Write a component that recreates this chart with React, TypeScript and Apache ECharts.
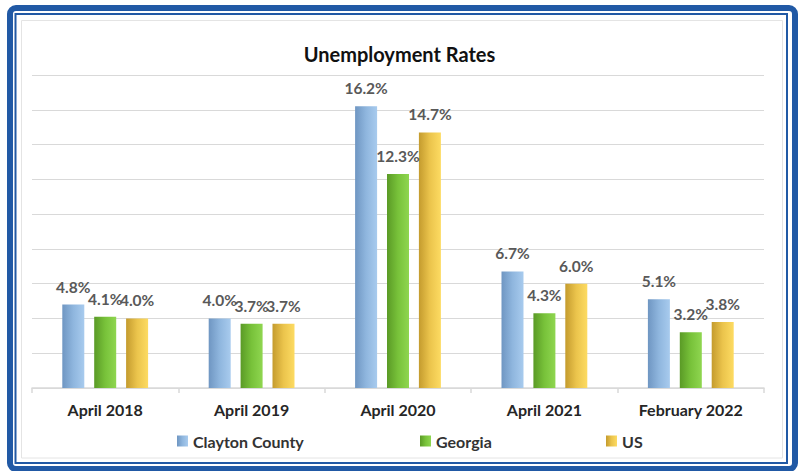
import React, { useEffect, useRef } from "react";
import * as echarts from "echarts";

const categories = ["April 2018", "April 2019", "April 2020", "April 2021", "February 2022"];
const claytonCounty = [4.8, 4.0, 16.2, 6.7, 5.1];
const georgia = [4.1, 3.7, 12.3, 4.3, 3.2];
const us = [4.0, 3.7, 14.7, 6.0, 3.8];
const seriesNames = ["Clayton County", "Georgia", "US"];

const FONT = "Lato, 'Noto Sans', sans-serif";

function grad(c1: string, c2: string, c3: string) {
  return new echarts.graphic.LinearGradient(0, 0, 1, 0, [
    { offset: 0, color: c1 },
    { offset: 0.5, color: c2 },
    { offset: 1, color: c3 },
  ]);
}

export default function App() {
  const ref = useRef<HTMLDivElement>(null);
  useEffect(() => {
    if (!ref.current) return;
    const chart = echarts.init(ref.current, undefined, { renderer: "svg" });
    const colors = [
      grad("#6f96c2", "#8fb6de", "#a8cbee"),
      grad("#5a9a26", "#78c23a", "#8fd650"),
      grad("#c49b2e", "#ebc44c", "#fddb62"),
    ];
    const datas = [claytonCounty, georgia, us];
    const label = {
      show: true,
      position: "top",
      distance: 10,
      formatter: (p: any) => p.value.toFixed(1) + "%",
      fontFamily: FONT,
      fontWeight: "bold",
      fontSize: 15.5,
      color: "#595959",
    };
    const legendLefts = [172, 415, 601];
    chart.setOption({
      animation: false,
      backgroundColor: "#ffffff",
      title: {
        text: "Unemployment Rates",
        left: "center",
        top: 39,
        textStyle: { fontFamily: FONT, fontWeight: "bold", fontSize: 20, color: "#111111" },
      },
      legend: seriesNames.map((n, i) => ({
        data: [n],
        left: legendLefts[i],
        top: 428,
        itemWidth: 11,
        itemHeight: 11,
        icon: "rect",
        textStyle: { fontFamily: FONT, fontWeight: "bold", fontSize: 16, color: "#333333" },
      })),
      grid: { left: 32, right: 35, top: 75, bottom: 83 },
      xAxis: {
        type: "category",
        data: categories,
        axisLine: { lineStyle: { color: "#d9d9d9", width: 1.5 } },
        axisTick: { show: true, length: 5, lineStyle: { color: "#d9d9d9", width: 1.5 } },
        axisLabel: {
          margin: 13,
          fontFamily: FONT,
          fontWeight: "bold",
          fontSize: 16,
          color: "#262626",
        },
      },
      yAxis: {
        type: "value",
        min: 0,
        max: 18,
        interval: 2,
        axisLabel: { show: false },
        axisLine: { show: false },
        axisTick: { show: false },
        splitLine: { lineStyle: { color: "#d9d9d9", width: 1.2 } },
      },
      series: seriesNames.map((n, i) => ({
        name: n,
        type: "bar",
        data: datas[i],
        barWidth: 22,
        barGap: "45%",
        itemStyle: { color: colors[i] },
        label,
      })),
      graphic: [
        {
          type: "rect",
          shape: { x: 21.5, y: 20.5, width: 761, height: 437.5 },
          style: { fill: "none", stroke: "#e4e4e4", lineWidth: 1 },
        },
        {
          type: "rect",
          shape: { x: 15.5, y: 14, width: 771.5, height: 449 },
          style: { fill: "none", stroke: "#2159a5", lineWidth: 2 },
        },
        {
          type: "rect",
          shape: { x: 10, y: 8, width: 785, height: 461, r: 6 },
          style: { fill: "none", stroke: "#2159a5", lineWidth: 6 },
        },
      ],
    });
    return () => chart.dispose();
  }, []);
  return (
    <div style={{ position: "absolute", left: 0, top: 0, width: 799, height: 471 }}>
      <div ref={ref} style={{ width: 799, height: 471 }} />
    </div>
  );
}
